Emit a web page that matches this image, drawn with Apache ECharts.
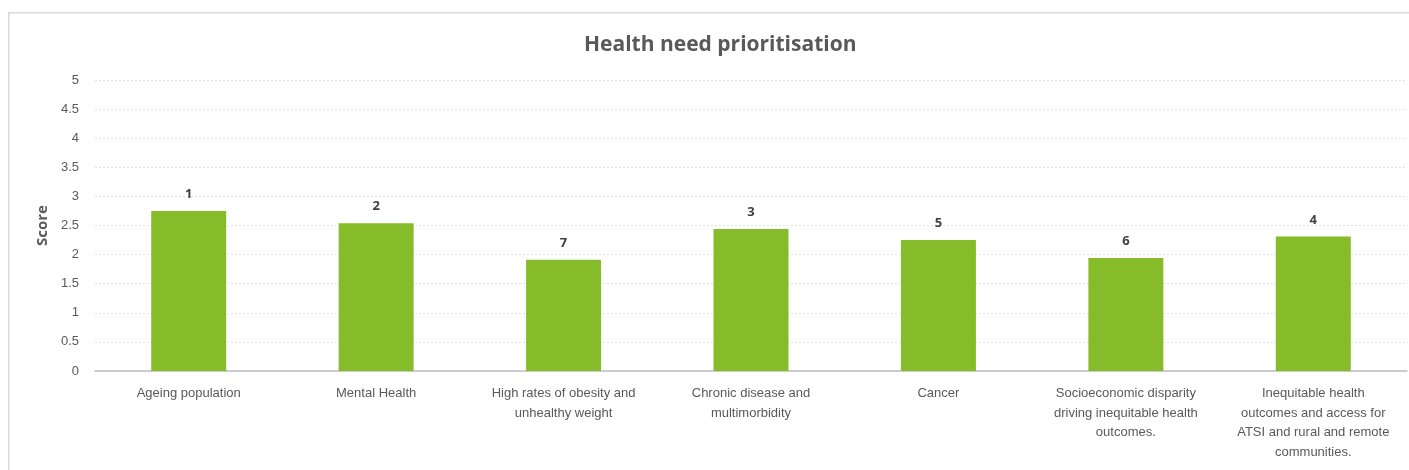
<!DOCTYPE html>
<html>
<head>
<meta charset="utf-8">
<script src="https://cdn.jsdelivr.net/npm/echarts@6/dist/echarts.min.js"></script>
<style>html,body{margin:0;padding:0;background:#fff;}#c{width:1409px;height:470px;}</style>
</head>
<body>
<div id="c"></div>
<script>
var categories = [
  "Ageing population",
  "Mental Health",
  "High rates of obesity and\nunhealthy weight",
  "Chronic disease and\nmultimorbidity",
  "Cancer",
  "Socioeconomic disparity\ndriving inequitable health\noutcomes.",
  "Inequitable health\noutcomes and access for\nATSI and rural and remote\ncommunities."
];
var scores = [2.75, 2.54, 1.91, 2.44, 2.25, 1.94, 2.31];
var ranks = ["1", "2", "7", "3", "5", "6", "4"];
var yTicks = [0, 0.5, 1, 1.5, 2, 2.5, 3, 3.5, 4, 4.5, 5];

var chart = echarts.init(document.getElementById('c'), null, {renderer: 'canvas'});
chart.setOption({
  animation: false,
  backgroundColor: '#ffffff',
  graphic: [{
    type: 'rect', left: 8, top: 12, z: -1, silent: true,
    shape: {width: 1430, height: 500},
    style: {fill: 'transparent', stroke: '#d9d9d9', lineWidth: 1.5}
  }],
  title: {
    text: 'Health need prioritisation',
    left: 579, top: 30,
    textStyle: {fontFamily: 'Open Sans', fontSize: 21, fontWeight: 'bold', color: '#595959'}
  },
  grid: {left: 95, right: 2, top: 80, bottom: 99, containLabel: false},
  xAxis: {
    type: 'category',
    data: categories,
    axisLine: {lineStyle: {color: '#bfbfbf', width: 1.5}},
    axisTick: {show: false},
    axisLabel: {
      interval: 0, margin: 13,
      fontFamily: 'Liberation Sans', fontSize: 13, color: '#595959', lineHeight: 19.5
    }
  },
  yAxis: {
    type: 'value', min: 0, max: 5, interval: 0.5,
    name: 'Score', nameLocation: 'middle', nameGap: 36, nameRotate: 90,
    nameTextStyle: {fontFamily: 'Open Sans', fontSize: 15, fontWeight: 'bold', color: '#595959'},
    axisLine: {show: false},
    axisTick: {show: false},
    axisLabel: {
      margin: 16, fontFamily: 'Liberation Sans', fontSize: 13, color: '#595959',
      formatter: function (v) { return yTicks.indexOf(v) >= 0 ? String(v) : ''; }
    },
    splitLine: {lineStyle: {color: '#e3e3e3', type: [2, 2], width: 1}}
  },
  series: [{
    type: 'bar',
    data: scores,
    barWidth: '40%',
    itemStyle: {color: '#86bc29'},
    label: {
      show: true, position: 'top', distance: 10,
      fontFamily: 'Open Sans', fontSize: 13, fontWeight: 'bold', color: '#404040',
      formatter: function (p) { return ranks[p.dataIndex]; }
    }
  }]
});
</script>
</body>
</html>
